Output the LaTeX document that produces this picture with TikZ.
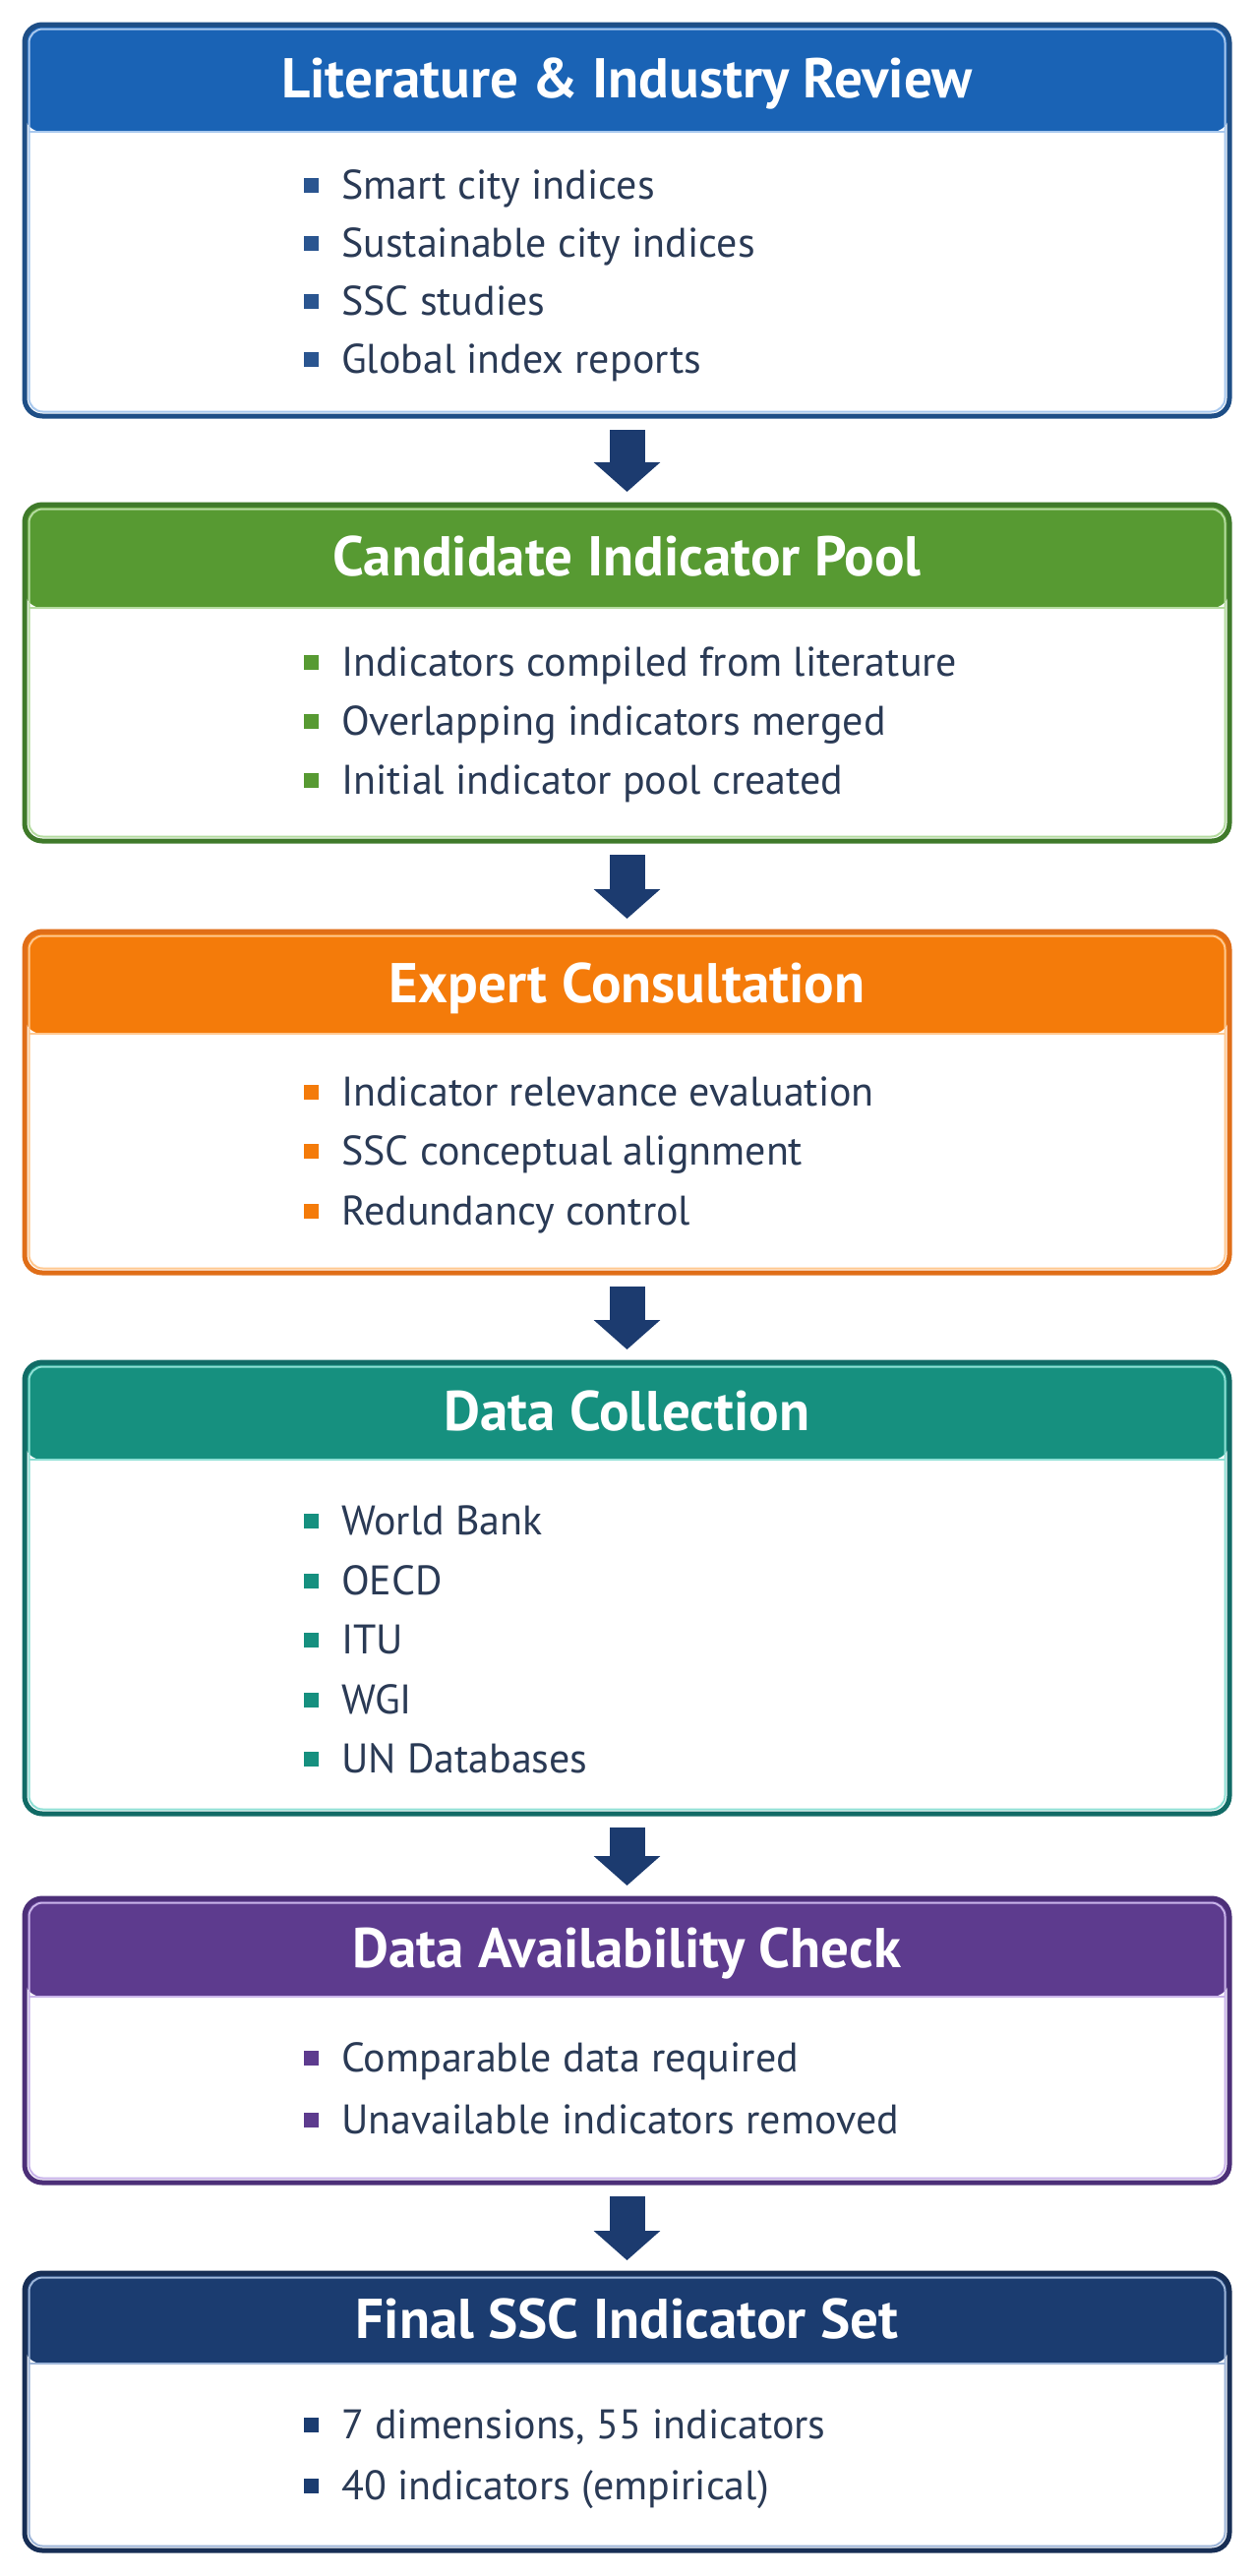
\documentclass[tikz,border=0pt]{standalone}
\usepackage{fontspec}
\setmainfont{PT Sans}
\usetikzlibrary{arrows.meta}
\definecolor{txt}{HTML}{2A3A55}
\definecolor{arrowc}{HTML}{1C3B6F}
\definecolor{bluehead}{HTML}{1A63B5}\definecolor{bluedark}{HTML}{1E4E86}\definecolor{bluelight}{HTML}{A8C8EE}\definecolor{bluebul}{HTML}{2A5590}
\definecolor{greenhead}{HTML}{579A32}\definecolor{greendark}{HTML}{3F7A2A}\definecolor{greenlight}{HTML}{B5DCA0}\definecolor{greenbul}{HTML}{579A32}
\definecolor{orangehead}{HTML}{F47B0A}\definecolor{orangedark}{HTML}{E06E18}\definecolor{orangelight}{HTML}{FFC890}\definecolor{orangebul}{HTML}{F47B0A}
\definecolor{tealhead}{HTML}{16907F}\definecolor{tealdark}{HTML}{116B66}\definecolor{teallight}{HTML}{8FE0D5}\definecolor{tealbul}{HTML}{16907F}
\definecolor{purplehead}{HTML}{5D3B8E}\definecolor{purpledark}{HTML}{4C2F78}\definecolor{purplelight}{HTML}{C9B4EA}\definecolor{purplebul}{HTML}{5D3B8E}
\definecolor{navyhead}{HTML}{1B3C70}\definecolor{navydark}{HTML}{172E55}\definecolor{navylight}{HTML}{9DB5D8}\definecolor{navybul}{HTML}{1B3C70}
\tikzset{
  stageframe/.style={rectangle, rounded corners=18pt, line width=5pt, fill=white, minimum width=1225pt, inner sep=0pt, outer sep=0pt},
  titletext/.style={font=\fontsize{57}{62}\selectfont\bfseries, text=white, inner sep=0pt, text height=40pt, text depth=0pt},
  itemtext/.style={font=\fontsize{42}{48}\selectfont, text=txt, anchor=west, inner sep=0pt, text height=29pt, text depth=0pt},
  sqbullet/.style={rectangle, minimum size=15pt, inner sep=0pt, outer sep=0pt},
  flowarrow/.style={draw=arrowc, line width=36pt, -{Triangle[width=66pt, length=30pt]}, shorten <=14pt, shorten >=13pt}
}
% name, colour prefix, top, header bottom, bottom, title
\newcommand{\stagebox}[6]{%
  \node[stageframe, draw=#2dark, minimum height={#5-#3},
    path picture={\fill[#2head] (path picture bounding box.north west) rectangle ([yshift={-(#4-#3)}]path picture bounding box.north east);}]
    (#1) at (637.5,{(#3+#5)/2}) {};
  \draw[#2light, line width=2pt, rounded corners=14pt] ([shift={(4.5pt,-4.5pt)}]#1.north west) rectangle ([shift={(-4.5pt,4.5pt)}]#1.south east);
  \coordinate (#1-h) at (637.5,#4);
  \draw[#2light, line width=2pt] ([xshift=4.5pt]#1.west |- #1-h) -- ([xshift=-4.5pt]#1.east |- #1-h);
  \node[titletext] (#1-t) at (637.5,{(#3+#4)/2}) {#6};
}
% name, colour prefix, y, text
\newcommand{\bulletline}[4]{%
  \node[sqbullet, fill=#2bul] (#1-b) at (316,#3) {};
  \node[itemtext] (#1) at (347,#3) {#4};
}
\begin{document}
\begin{tikzpicture}[x=1pt,y=-1pt]
\useasboundingbox[fill=white] (0,0) rectangle (1275,2619);

\stagebox{s1}{blue}{25}{134}{423}{Literature \& Industry Review}
\bulletline{s1a}{blue}{188}{Smart city indices}
\bulletline{s1b}{blue}{247}{Sustainable city indices}
\bulletline{s1c}{blue}{306}{SSC studies}
\bulletline{s1d}{blue}{365}{Global index reports}

\stagebox{s2}{green}{513}{618}{855}{Candidate Indicator Pool}
\bulletline{s2a}{green}{673}{Indicators compiled from literature}
\bulletline{s2b}{green}{733}{Overlapping indicators merged}
\bulletline{s2c}{green}{793}{Initial indicator pool created}

\stagebox{s3}{orange}{947}{1051}{1294}{Expert Consultation}
\bulletline{s3a}{orange}{1110}{Indicator relevance evaluation}
\bulletline{s3b}{orange}{1170}{SSC conceptual alignment}
\bulletline{s3c}{orange}{1231}{Redundancy control}

\stagebox{s4}{teal}{1385}{1484}{1844}{Data Collection}
\bulletline{s4a}{teal}{1546}{World Bank}
\bulletline{s4b}{teal}{1607}{OECD}
\bulletline{s4c}{teal}{1667}{ITU}
\bulletline{s4d}{teal}{1728}{WGI}
\bulletline{s4e}{teal}{1788}{UN Databases}

\stagebox{s5}{purple}{1930}{2030}{2219}{Data Availability Check}
\bulletline{s5a}{purple}{2092}{Comparable data required}
\bulletline{s5b}{purple}{2155}{Unavailable indicators removed}

\stagebox{s6}{navy}{2311}{2403}{2593}{Final SSC Indicator Set}
\bulletline{s6a}{navy}{2465}{7 dimensions, 55 indicators}
\bulletline{s6b}{navy}{2527}{40 indicators (empirical)}

\draw[flowarrow] (s1.south) -- (s2.north);
\draw[flowarrow] (s2.south) -- (s3.north);
\draw[flowarrow] (s3.south) -- (s4.north);
\draw[flowarrow] (s4.south) -- (s5.north);
\draw[flowarrow] (s5.south) -- (s6.north);
\end{tikzpicture}
\end{document}
